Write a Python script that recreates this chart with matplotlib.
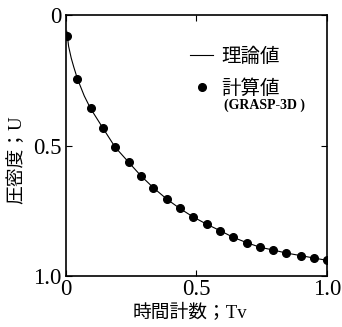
import matplotlib
matplotlib.use('Agg')
import matplotlib.pyplot as plt

plt.rcParams['font.family'] = ['Liberation Serif', 'Noto Sans CJK JP']

# theoretical curve
theory_tv = [0.003, 0.01, 0.02, 0.03, 0.044, 0.07, 0.094, 0.142, 0.188, 0.240, 0.287,
             0.335, 0.387, 0.436, 0.486, 0.540, 0.590, 0.641, 0.692, 0.744, 0.792,
             0.844, 0.900, 0.949, 1.0]
theory_u = [0.062, 0.12, 0.165, 0.20, 0.245, 0.31, 0.358, 0.434, 0.506, 0.564, 0.616,
            0.662, 0.706, 0.741, 0.773, 0.802, 0.826, 0.852, 0.872, 0.890, 0.900,
            0.912, 0.922, 0.931, 0.940]

# GRASP-3D results
calc_tv = [0.003, 0.044, 0.094, 0.142, 0.188, 0.240, 0.287, 0.335, 0.387, 0.436, 0.486,
           0.540, 0.590, 0.641, 0.692, 0.744, 0.792, 0.844, 0.900, 0.949, 1.0]
calc_u = [0.079, 0.245, 0.358, 0.434, 0.506, 0.564, 0.616, 0.662, 0.706, 0.741, 0.773,
          0.802, 0.826, 0.852, 0.872, 0.890, 0.900, 0.912, 0.922, 0.931, 0.940]

ticks = [0, 0.5, 1.0]
tick_labels = ['0', '0.5', '1.0']

fig = plt.figure(figsize=(3.42, 3.27), dpi=100)
ax = fig.add_axes([0.193, 0.156, 0.763, 0.798])

ax.plot(theory_tv, theory_u, color='black', lw=0.8, label='理論値')
ax.plot(calc_tv, calc_u, 'o', color='black', ms=5.5, label='計算値')

ax.set_xlim(0, 1.0)
ax.set_ylim(1.0, 0)
ax.set_xticks(ticks)
ax.set_xticklabels(tick_labels)
ax.set_yticks(ticks)
ax.set_yticklabels(tick_labels)
ax.tick_params(direction='in', top=True, right=True, length=4, labelsize=16.5)
ax.tick_params(axis='x', pad=2)
ax.tick_params(axis='y', pad=3)
for s in ax.spines.values():
    s.set_linewidth(1.2)

ax.set_xlabel('時間計数；Tv', fontsize=13.5)
ax.set_ylabel('圧密度；U', fontsize=13.5)
ax.xaxis.set_label_coords(0.475, -0.108)
ax.yaxis.set_label_coords(-0.157, 0.444)

ax.legend(loc='upper left', bbox_to_anchor=(0.438, 0.911), frameon=False, fontsize=14,
          handlelength=1.2, handletextpad=0.4, labelspacing=0.69, borderpad=0)
ax.text(0.605, 0.655, '(GRASP-3D )', transform=ax.transAxes, fontsize=10,
        fontweight='bold', va='center', ha='left')

fig.savefig('out.png', dpi=100)
